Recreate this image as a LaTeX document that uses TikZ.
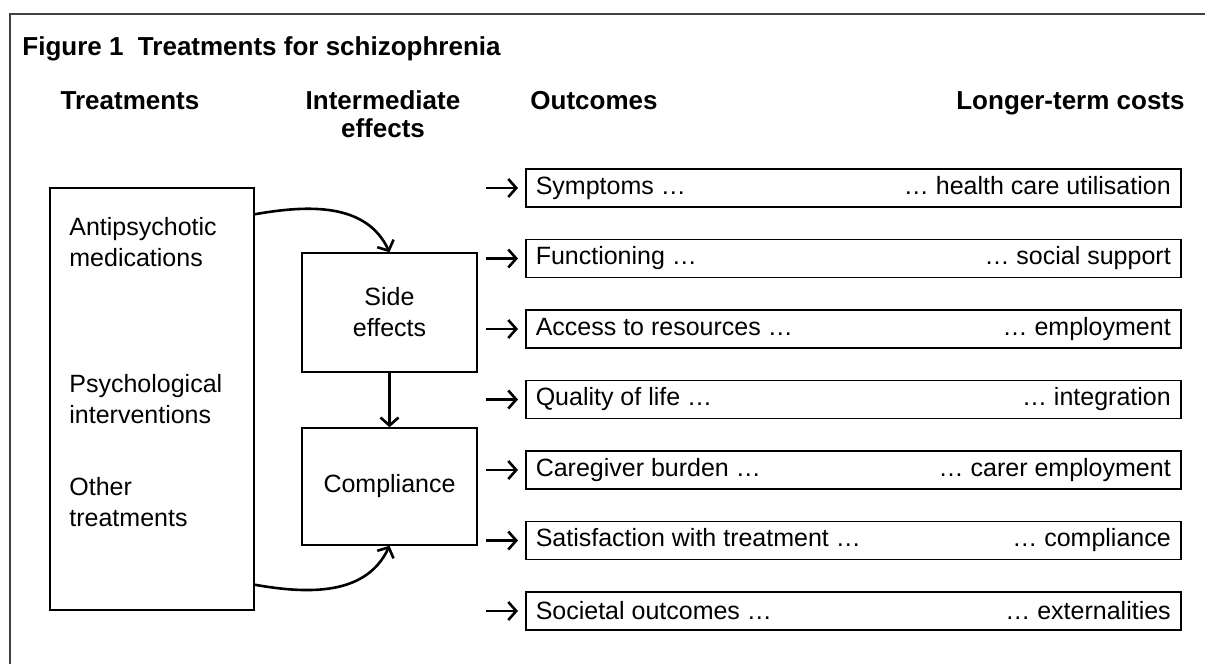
\documentclass[tikz,border=0pt]{standalone}
\usepackage{fontspec}
\setmainfont{Liberation Sans}
\usetikzlibrary{arrows.meta,positioning}

\tikzset{
  box/.style={draw,line width=0.75pt,inner sep=0pt},
  outbox/.style={box,anchor=west,minimum height=19pt,inner xsep=5pt},
  flow/.style={-{Straight Barb[length=4pt,width=9pt]},line width=1.3pt},
  head/.style={font=\fontsize{13}{14}\selectfont\bfseries,inner sep=0pt},
}
\newcommand{\rowtext}[2]{\makebox[317.5pt]{#1\hfill#2}}

\begin{document}
\begin{tikzpicture}[x=0.5pt,y=-0.5pt,font=\fontsize{12.5}{15.5}\selectfont]
    \useasboundingbox (0,0) rectangle (1205,664);
    \draw [line width=0.8pt,black!75] (1205,14) -- (10,14) -- (10,664);

    % headings
    \node [head,anchor=base west] (title) at (22,55) {Figure 1\ \ Treatments for schizophrenia};
    \node [head,anchor=base] (htreat) at (130,109) {Treatments};
    \node [head,anchor=base,align=center] (hinter) at (383,137) {Intermediate\\effects};
    \node [head,anchor=base west] (hout) at (530,109) {Outcomes};
    \node [head,anchor=base east] (hcost) at (1185,109) {Longer-term costs};

    % treatments
    \node [box,minimum width=102pt,minimum height=211pt] (lbox) at (152,399) {};
    \node [anchor=west,align=left,inner sep=0pt] (antipsy) at (69,242) {Antipsychotic\\medications};
    \node [anchor=west,align=left,inner sep=0pt] (psych) at (69,399) {Psychological\\interventions};
    \node [anchor=west,align=left,inner sep=0pt] (other) at (69,502) {Other\\treatments};

    % intermediate effects
    \node [box,minimum width=87.5pt,minimum height=59.5pt,align=center] (side) at (389.5,312.5) {Side\\effects};
    \node [box,minimum width=87.5pt,minimum height=58.5pt] (comp) at (389.5,486.5) {Compliance};
    \draw [flow] (side) -- (comp);
    \draw [flow] ([yshift=-13.5pt]lbox.north east) to [out=10,in=115] (side.north);
    \draw [flow] ([yshift=13pt]lbox.south east) to [out=-10,in=-115] (comp.south);

    % outcomes and longer-term costs
    \node [outbox] (symp) at (525,188) {\rowtext{Symptoms …}{… health care utilisation}};
    \node [outbox] (func) at (525,258.5) {\rowtext{Functioning …}{… social support}};
    \node [outbox] (access) at (525,329) {\rowtext{Access to resources …}{… employment}};
    \node [outbox] (qol) at (525,399.5) {\rowtext{Quality of life …}{… integration}};
    \node [outbox] (burden) at (525,470) {\rowtext{Caregiver burden …}{… carer employment}};
    \node [outbox] (satis) at (525,540.5) {\rowtext{Satisfaction with treatment …}{… compliance}};
    \node [outbox] (soc) at (525,611) {\rowtext{Societal outcomes …}{… externalities}};
    \foreach \o in {symp,func,access,qol,burden,satis,soc}
        \draw [flow] ([xshift=-19.5pt]\o.west) -- ([xshift=-3.5pt]\o.west);
\end{tikzpicture}
\end{document}
